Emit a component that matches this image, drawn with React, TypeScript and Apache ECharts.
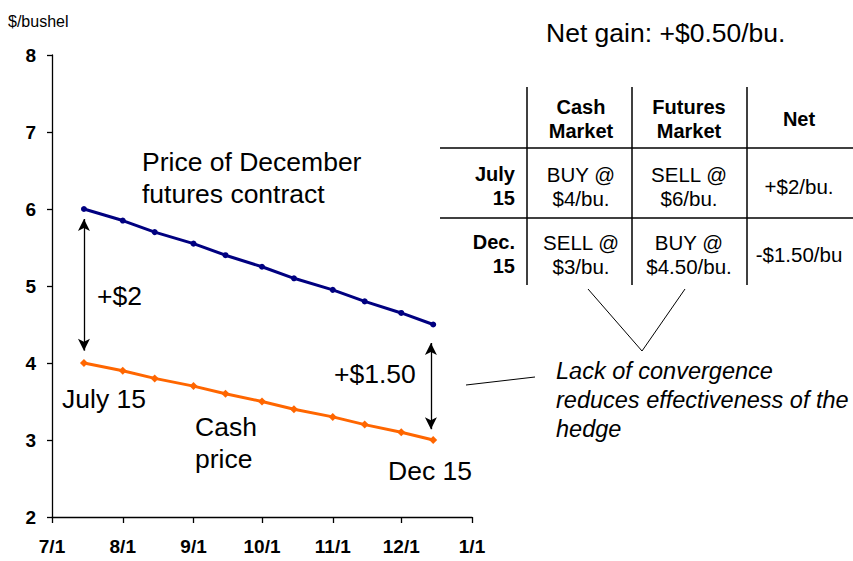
import React, { useEffect, useRef } from "react";
import * as echarts from "echarts";

const tickDates = ["2001-07-01", "2001-08-01", "2001-09-01", "2001-10-01", "2001-11-01", "2001-12-01", "2002-01-01"];
const tickLabels = ["7/1", "8/1", "9/1", "10/1", "11/1", "12/1", "1/1"];
const pointDates = [
  "2001-07-15", "2001-08-01", "2001-08-15", "2001-09-01", "2001-09-15", "2001-10-01",
  "2001-10-15", "2001-11-01", "2001-11-15", "2001-12-01", "2001-12-15",
];
const futuresPrice = [6.0, 5.85, 5.7, 5.55, 5.4, 5.25, 5.1, 4.95, 4.8, 4.65, 4.5];
const cashPrice = [4.0, 3.9, 3.8, 3.7, 3.6, 3.5, 3.4, 3.3, 3.2, 3.1, 3.0];
const yMin = 2;
const yMax = 8;
const yInterval = 1;

const tableHeaders = ["Cash\nMarket", "Futures\nMarket", "Net"];
const tableRowLabels = ["July\n15", "Dec.\n15"];
const tableCells = [
  ["BUY @\n$4/bu.", "SELL @\n$6/bu.", "+$2/bu."],
  ["SELL @\n$3/bu.", "BUY @\n$4.50/bu.", "-$1.50/bu"],
];

const FONT = '"Liberation Sans", Arial, Helvetica, sans-serif';
const dayOf = (s: string) => (Date.parse(s) - Date.parse(tickDates[0])) / 86400000;

export default function App() {
  const ref = useRef<HTMLDivElement>(null);
  useEffect(() => {
    if (!ref.current) return;
    const chart = echarts.init(ref.current, null, { renderer: "svg" });
    const tickDays = tickDates.map(dayOf);
    const pDays = pointDates.map(dayOf);
    const futData = pDays.map((d, i) => [d, futuresPrice[i]]);
    const cashData = pDays.map((d, i) => [d, cashPrice[i]]);
    const firstDay = pDays[0];
    const lastDay = pDays[pDays.length - 1];

    const txt = (text: string, x: number, y: number, size: number, opts: any = {}) => ({
      type: "text",
      x,
      y,
      silent: true,
      style: {
        text,
        fill: "#000",
        fontFamily: FONT,
        fontSize: size,
        fontWeight: opts.bold ? "bold" : "normal",
        fontStyle: opts.italic ? "italic" : "normal",
        align: opts.align || "left",
        verticalAlign: opts.va || "middle",
        lineHeight: opts.lh || Math.round(size * 1.2),
      },
    });
    const ln = (x1: number, y1: number, x2: number, y2: number, w = 1.3) => ({
      type: "line",
      silent: true,
      shape: { x1, y1, x2, y2 },
      style: { stroke: "#000", lineWidth: w },
    });

    const colX = [581, 689, 799];
    const rowY = [186, 254];
    const graphics: any[] = [
      txt("$/bushel", 8, 21, 16),
      txt("Net gain: +$0.50/bu.", 546, 33, 26.5),
      txt("Price of December\nfutures contract", 142, 178, 26.5, { lh: 32 }),
      txt("+$2", 97, 296, 26.5),
      txt("July 15", 62, 399, 26.5),
      txt("Cash\nprice", 195, 443, 26.5, { lh: 32 }),
      txt("+$1.50", 334, 374, 26.5),
      txt("Dec 15", 388, 471, 26.5),
      txt("Lack of convergence\nreduces effectiveness of the\nhedge", 556, 400, 23.5, { italic: true, lh: 29 }),
      ln(466, 385, 535, 377, 1),
      ln(588, 289, 642, 351, 1),
      ln(685, 289, 642, 351, 1),
      ln(527, 87, 527, 285, 1.5),
      ln(632, 87, 632, 285, 1.5),
      ln(747, 87, 747, 285, 1.5),
      ln(440, 148, 853, 148, 1.5),
      ln(440, 218, 853, 218, 1.5),
    ];
    tableHeaders.forEach((h, i) => graphics.push(txt(h, colX[i], 119, 20, { bold: true, align: "center", lh: 24 })));
    tableRowLabels.forEach((r, i) => graphics.push(txt(r, 515, rowY[i], 20, { bold: true, align: "right", lh: 24 })));
    tableCells.forEach((row, ri) =>
      row.forEach((c, ci) => graphics.push(txt(c, colX[ci], rowY[ri], 20.5, { align: "center", lh: 24 })))
    );

    chart.setOption({
      animation: false,
      grid: { left: 52, top: 55, width: 420, height: 462, containLabel: false },
      xAxis: {
        type: "value",
        min: tickDays[0],
        max: tickDays[tickDays.length - 1],
        splitLine: { show: false },
        axisLine: { show: true, onZero: false, lineStyle: { color: "#000", width: 1.3 } },
        axisTick: { show: true, length: 6, customValues: tickDays, lineStyle: { color: "#000", width: 1.3 } },
        axisLabel: {
          customValues: tickDays,
          margin: 20,
          color: "#000",
          fontFamily: FONT,
          fontSize: 19,
          fontWeight: "bold",
          formatter: (v: number) => {
            const i = tickDays.findIndex((t) => Math.abs(t - v) < 0.01);
            return i >= 0 ? tickLabels[i] : "";
          },
        },
      },
      yAxis: {
        type: "value",
        min: yMin,
        max: yMax,
        interval: yInterval,
        splitLine: { show: false },
        axisLine: { show: true, lineStyle: { color: "#000", width: 1.3 } },
        axisTick: { show: true, length: 5, lineStyle: { color: "#000", width: 1.3 } },
        axisLabel: { margin: 16, color: "#000", fontFamily: FONT, fontSize: 19, fontWeight: "bold" },
      },
      series: [
        {
          name: "Futures",
          type: "line",
          data: futData,
          symbol: "circle",
          symbolSize: 6,
          itemStyle: { color: "#000080" },
          lineStyle: { color: "#000080", width: 3 },
          silent: true,
          markLine: {
            silent: true,
            symbol: ["arrow", "arrow"],
            symbolSize: [9, 12],
            label: { show: false },
            lineStyle: { color: "#000", width: 1.3, type: "solid" },
            data: [
              [{ coord: [firstDay, 5.87] }, { coord: [firstDay, 4.16] }],
              [{ coord: [lastDay - 1, 4.26] }, { coord: [lastDay - 1, 3.14] }],
            ],
          },
        },
        {
          name: "Cash",
          type: "line",
          data: cashData,
          symbol: "diamond",
          symbolSize: 8,
          itemStyle: { color: "#FF6600" },
          lineStyle: { color: "#FF6600", width: 3 },
          silent: true,
        },
      ],
      graphic: graphics,
    });
    return () => chart.dispose();
  }, []);
  return <div ref={ref} style={{ position: "fixed", left: 0, top: 0, width: 853, height: 561, background: "#fff" }} />;
}
